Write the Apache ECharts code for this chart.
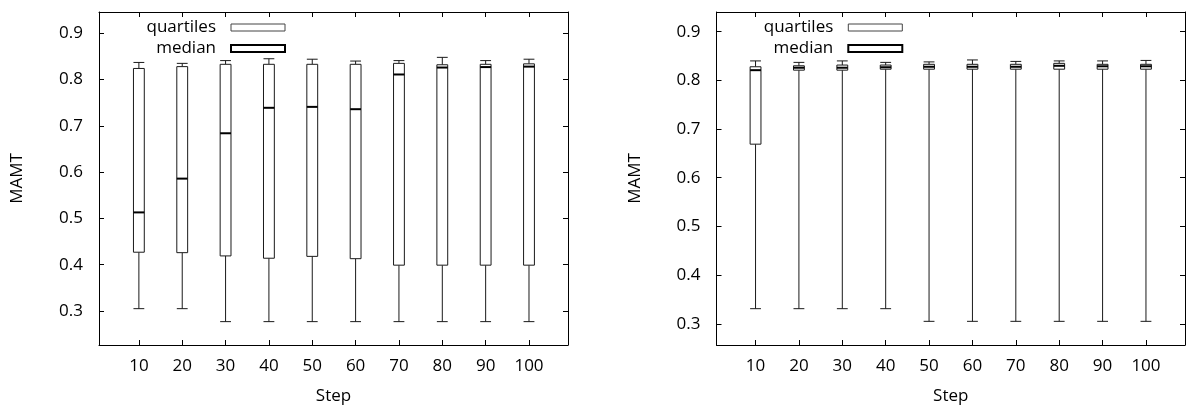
<!DOCTYPE html>
<html>
<head>
<meta charset="utf-8">
<style>
  html, body { margin: 0; padding: 0; background: #fff; }
  #chart { width: 1188px; height: 408px; }
</style>
<script src="https://cdn.jsdelivr.net/npm/echarts@6/dist/echarts.min.js"></script>
</head>
<body>
<div id="chart"></div>
<script>
// Steps along the x axis
const steps = [10, 20, 30, 40, 50, 60, 70, 80, 90, 100];
const yTicks = [0.3, 0.4, 0.5, 0.6, 0.7, 0.8, 0.9];

// Left panel: whisker ends, quartiles and median per step
const lowA  = [0.305, 0.305, 0.277, 0.277, 0.277, 0.277, 0.277, 0.277, 0.277, 0.277];
const q1A   = [0.427, 0.426, 0.419, 0.414, 0.418, 0.413, 0.399, 0.399, 0.399, 0.399];
const medA  = [0.513, 0.586, 0.684, 0.739, 0.741, 0.736, 0.811, 0.826, 0.827, 0.828];
const q3A   = [0.824, 0.828, 0.833, 0.833, 0.833, 0.833, 0.835, 0.832, 0.833, 0.834];
const highA = [0.837, 0.835, 0.841, 0.845, 0.844, 0.840, 0.841, 0.848, 0.841, 0.844];

// Right panel
const lowB  = [0.331, 0.331, 0.331, 0.331, 0.305, 0.305, 0.305, 0.305, 0.305, 0.305];
const q1B   = [0.669, 0.821, 0.821, 0.823, 0.823, 0.823, 0.823, 0.823, 0.823, 0.823];
const medB  = [0.821, 0.826, 0.826, 0.827, 0.828, 0.828, 0.828, 0.830, 0.829, 0.829];
const q3B   = [0.828, 0.830, 0.8315, 0.8315, 0.833, 0.833, 0.833, 0.835, 0.833, 0.833];
const highB = [0.840, 0.837, 0.840, 0.837, 0.838, 0.842, 0.839, 0.840, 0.840, 0.841];

const FONT = '"Open Sans", sans-serif';
const FS = 17;
const HALF = 1.25; // half box width in step units
const INK = '#1a1a1a';

function rows(low, q1, med, q3, high) {
  return steps.map((s, i) => [s, low[i], q1[i], med[i], q3[i], high[i]]);
}

function renderBox(params, api) {
  const x = api.value(0);
  const lo = api.value(1), q1 = api.value(2), q3 = api.value(4), hi = api.value(5);
  const pLoL = api.coord([x - HALF, lo]), pLoR = api.coord([x + HALF, lo]);
  const pHiL = api.coord([x - HALF, hi]), pHiR = api.coord([x + HALF, hi]);
  const pQ1 = api.coord([x - HALF, q1]), pQ3 = api.coord([x + HALF, q3]);
  const cx = api.coord([x, lo])[0];
  const stroke = { stroke: INK, lineWidth: 1, fill: null };
  return {
    type: 'group',
    children: [
      { type: 'line', shape: { x1: cx, y1: pQ1[1], x2: cx, y2: pLoL[1] }, style: stroke },
      { type: 'line', shape: { x1: cx, y1: pQ3[1], x2: cx, y2: pHiL[1] }, style: stroke },
      { type: 'line', shape: { x1: pLoL[0], y1: pLoL[1], x2: pLoR[0], y2: pLoR[1] }, style: stroke },
      { type: 'line', shape: { x1: pHiL[0], y1: pHiL[1], x2: pHiR[0], y2: pHiR[1] }, style: stroke },
      { type: 'rect', shape: { x: pQ1[0], y: pQ3[1], width: pQ3[0] - pQ1[0], height: pQ1[1] - pQ3[1] },
        style: { stroke: INK, lineWidth: 1, fill: '#fff' } }
    ]
  };
}

function renderMedian(params, api) {
  const x = api.value(0);
  const a = api.coord([x - HALF, api.value(3)]);
  const b = api.coord([x + HALF, api.value(3)]);
  return { type: 'line', shape: { x1: a[0], y1: a[1], x2: b[0], y2: b[1] },
           style: { stroke: '#000', lineWidth: 2 } };
}

const grids = [
  { left: 99, top: 12, width: 469, height: 333, outerBoundsMode: 'none' },
  { left: 716.5, top: 12, width: 468.5, height: 333, outerBoundsMode: 'none' }
];
const xRange = [[0.8, 109], [1.0, 109]];
const yRange = [[0.2265, 0.946], [0.2564, 0.9405]];

const xAxes = [], yAxes = [], series = [], legends = [];
const panels = [
  rows(lowA, q1A, medA, q3A, highA),
  rows(lowB, q1B, medB, q3B, highB)
];
const legendRight = [902, 284.7];

panels.forEach((data, g) => {
  const line = { show: true, onZero: false, lineStyle: { color: '#000', width: 1 } };
  xAxes.push({
    gridIndex: g, type: 'value', position: 'bottom',
    min: xRange[g][0], max: xRange[g][1],
    axisLine: line,
    axisTick: { show: true, inside: true, length: 5, customValues: steps, lineStyle: { color: '#000' } },
    axisLabel: { customValues: steps, fontFamily: FONT, fontSize: FS, color: '#000', margin: 13 },
    splitLine: { show: false },
    name: 'Step', nameLocation: 'middle', nameGap: 43,
    nameTextStyle: { fontFamily: FONT, fontSize: FS, color: '#000' }
  });
  xAxes.push({
    gridIndex: g, type: 'value', position: 'top',
    min: xRange[g][0], max: xRange[g][1],
    axisLine: line,
    axisTick: { show: true, inside: true, length: 5, customValues: steps, lineStyle: { color: '#000' } },
    axisLabel: { show: false },
    splitLine: { show: false }
  });
  yAxes.push({
    gridIndex: g, type: 'value', position: 'left',
    min: yRange[g][0], max: yRange[g][1],
    axisLine: line,
    axisTick: { show: true, inside: true, length: 5, customValues: yTicks, lineStyle: { color: '#000' } },
    axisLabel: { customValues: yTicks, formatter: v => v.toFixed(1),
                 fontFamily: FONT, fontSize: FS, color: '#000', margin: 16 },
    splitLine: { show: false },
    name: 'MAMT', nameLocation: 'middle', nameGap: 73, nameRotate: 90,
    nameTextStyle: { fontFamily: FONT, fontSize: FS, color: '#000' }
  });
  yAxes.push({
    gridIndex: g, type: 'value', position: 'right',
    min: yRange[g][0], max: yRange[g][1],
    axisLine: line,
    axisTick: { show: true, inside: true, length: 5, customValues: yTicks, lineStyle: { color: '#000' } },
    axisLabel: { show: false },
    splitLine: { show: false }
  });
  series.push({
    name: 'quartiles', type: 'custom', xAxisIndex: g * 2, yAxisIndex: g * 2,
    renderItem: renderBox, data: data, encode: { x: 0, y: [1, 2, 3, 4, 5] }, z: 2
  });
  series.push({
    name: 'median', type: 'custom', xAxisIndex: g * 2, yAxisIndex: g * 2,
    renderItem: renderMedian, data: data, encode: { x: 0, y: [1, 2, 3, 4, 5] }, z: 3
  });
  legends.push({
    orient: 'vertical', right: legendRight[g], top: 19, align: 'right',
    padding: 0,
    itemWidth: 54, itemHeight: 7, itemGap: 4,
    selectedMode: false,
    textStyle: { fontFamily: FONT, fontSize: FS, color: '#000', padding: [0, 10, 0, 0] },
    data: [
      { name: 'quartiles', icon: 'rect', itemStyle: { color: '#fff', borderColor: '#444', borderWidth: 1 } },
      { name: 'median', icon: 'rect', itemStyle: { color: '#fff', borderColor: '#000', borderWidth: 2 } }
    ]
  });
});

const chart = echarts.init(document.getElementById('chart'), null, { renderer: 'canvas' });
chart.setOption({
  animation: false,
  backgroundColor: '#fff',
  grid: grids,
  xAxis: xAxes,
  yAxis: yAxes,
  legend: legends,
  series: series
});
</script>
</body>
</html>
